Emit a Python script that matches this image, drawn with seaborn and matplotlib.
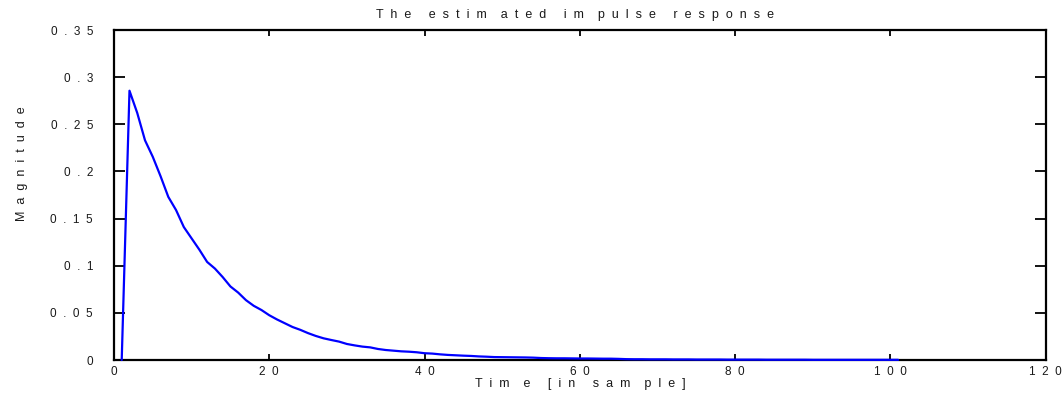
import numpy as np
import pandas as pd
import matplotlib
matplotlib.use("Agg")
import matplotlib.pyplot as plt
import seaborn as sns

# Estimated impulse response, one value per sample (samples 1..101)
samples = list(range(1, 102))
magnitude = [
    0.0, 0.2856, 0.262, 0.233, 0.2155, 0.195, 0.173, 0.159, 0.141, 0.129,
    0.117, 0.104, 0.097, 0.088, 0.078, 0.0715, 0.0635, 0.0575, 0.053, 0.0475,
    0.043, 0.039, 0.035, 0.032, 0.0285, 0.0255, 0.023, 0.0212, 0.0195, 0.017,
    0.0155, 0.0142, 0.0134, 0.0117, 0.0106, 0.0099, 0.0092, 0.0088, 0.0082, 0.0072,
    0.0068, 0.006, 0.0054, 0.005, 0.0046, 0.0043, 0.0038, 0.0035, 0.0031, 0.003,
    0.0029, 0.0028, 0.0027, 0.0025, 0.0021, 0.0019, 0.0018, 0.0018, 0.0017, 0.0016,
    0.0016, 0.0015, 0.0014, 0.0014, 0.0012, 0.0009, 0.0008, 0.0008, 0.0007, 0.0007,
    0.0007, 0.0006, 0.0006, 0.0006, 0.0005, 0.0005, 0.0005, 0.0005, 0.0004, 0.0004,
    0.0004, 0.0004, 0.0004, 0.0003, 0.0003, 0.0003, 0.0003, 0.0003, 0.0003, 0.0002,
    0.0002, 0.0002, 0.0002, 0.0002, 0.0002, 0.0002, 0.0002, 0.0002, 0.0002, 0.0002,
    0.0002,
]

x_ticks = [0, 20, 40, 60, 80, 100, 120]
x_tick_labels = ["0", "2  0", "4  0", "6  0", "8  0", "1  0  0", "1  2  0"]
y_ticks = [0, 0.05, 0.10, 0.15, 0.20, 0.25, 0.30, 0.35]
y_tick_labels = ["0", "0  .  0  5", "0  .  1", "0  .  1  5", "0  .  2",
                 "0  .  2  5", "0  .  3", "0  .  3  5"]

title_text = "T  h  e     e  s  t  i  m    a  t  e  d     i  m    p  u  l  s  e     r  e  s  p  o  n  s  e"
xlabel_text = "T  i  m    e     [  i  n     s  a  m    p  l  e  ]"
ylabel_text = "M  a  g  n  i  t  u  d  e"

df = pd.DataFrame({"sample": samples, "magnitude": magnitude})

sns.set_style("white")
plt.rcParams["font.family"] = ["Liberation Sans", "DejaVu Sans"]

fig = plt.figure(figsize=(10.63, 3.96), dpi=100)
ax = fig.add_axes([0.1072, 0.0909, 0.8765, 0.8333])

sns.lineplot(data=df, x="sample", y="magnitude", ax=ax, color="#0000ff",
             linewidth=1.6, clip_on=False, zorder=4)

ax.set_xlim(0, 120)
ax.set_ylim(0, 0.35)

tick_fs = 8.5
label_fs = 9
text_color = "#1a1a1a"
ax.set_xticks(x_ticks)
ax.set_xticklabels(x_tick_labels, fontsize=tick_fs)
ax.set_yticks(y_ticks)
ax.set_yticklabels(y_tick_labels, fontsize=tick_fs)

ax.tick_params(axis="x", which="both", direction="in", length=4, width=1.3,
               top=True, bottom=True, pad=4, colors="black", labelcolor=text_color)
ax.tick_params(axis="y", which="both", direction="in", length=8, width=1.3,
               left=True, right=True, pad=15, colors="black", labelcolor=text_color)

for side in ["left", "right", "top", "bottom"]:
    ax.spines[side].set_visible(True)
    ax.spines[side].set_color("black")
    ax.spines[side].set_linewidth(1.6)

ax.set_title(title_text, fontsize=label_fs, color=text_color, pad=8.5, x=0.495)
ax.set_xlabel(xlabel_text, fontsize=label_fs, color=text_color, labelpad=0)
ax.set_ylabel(ylabel_text, fontsize=label_fs, color=text_color)
ax.yaxis.set_label_coords(-0.0925, 0.594)

fig.savefig("out.png", dpi=100)
